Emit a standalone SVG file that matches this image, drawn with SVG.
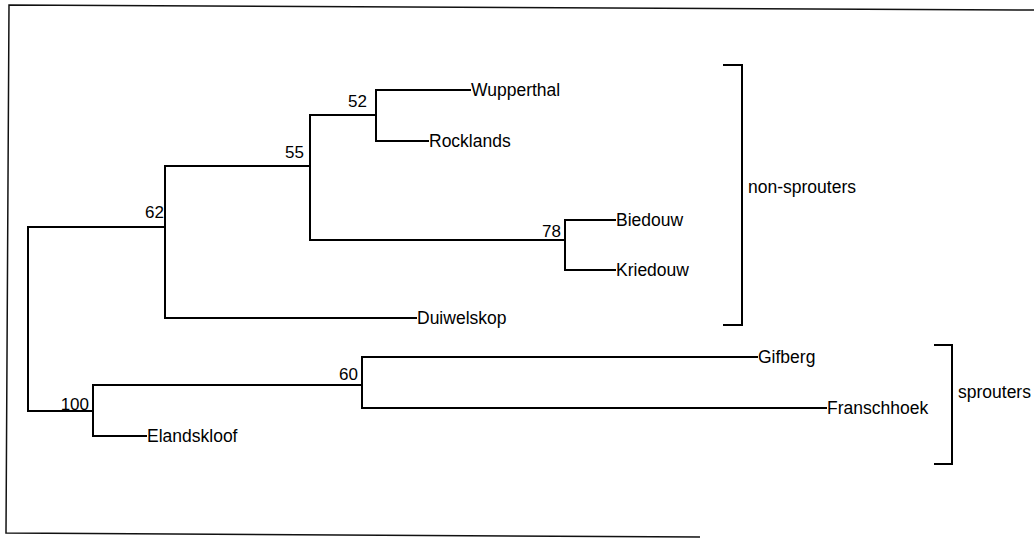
<svg xmlns="http://www.w3.org/2000/svg" width="1034" height="538" viewBox="0 0 1034 538">
<style>
.br{fill:none;stroke:#000;stroke-width:2;stroke-linecap:square}
.fr{fill:none;stroke:#111;stroke-width:1.5}
.t{font-family:"Liberation Sans",Arial,sans-serif;font-size:17.5px;fill:#000}
.n{font-family:"Liberation Sans",Arial,sans-serif;font-size:17px;fill:#000;text-anchor:end}
</style>
<rect width="1034" height="538" fill="#fff"/>
<path class="fr" d="M1034,10 L9,5 L6,533 L700,537"/>
<g id="connectors">
<path class="br" d="M28,227 V411"/>
<path class="br" d="M28,227 H165 M165,166 V318"/>
<path class="br" d="M165,166 H310 M310,115 V240"/>
<path class="br" d="M310,115 H376 M376,90 V141"/>
<path class="br" d="M376,90 H470 M376,141 H428"/>
<path class="br" d="M310,240 H565 M565,220 V270"/>
<path class="br" d="M565,220 H615 M565,270 H615"/>
<path class="br" d="M165,318 H416"/>
<path class="br" d="M28,411 H93 M93,385 V436"/>
<path class="br" d="M93,385 H362 M362,357 V408"/>
<path class="br" d="M362,357 H757 M362,408 H826"/>
<path class="br" d="M93,436 H146"/>
<path class="br" d="M724,65 H742 V325 H724"/>
<path class="br" d="M935,345 H952 V464 H935"/>
</g>
<g id="node-wupperthal"><text class="t" x="471" y="96">Wupperthal</text></g>
<g id="node-rocklands"><text class="t" x="429" y="147">Rocklands</text></g>
<g id="node-biedouw"><text class="t" x="616" y="226">Biedouw</text></g>
<g id="node-kriedouw"><text class="t" x="616" y="276">Kriedouw</text></g>
<g id="node-duiwelskop"><text class="t" x="417" y="324">Duiwelskop</text></g>
<g id="node-gifberg"><text class="t" x="758" y="363">Gifberg</text></g>
<g id="node-franschhoek"><text class="t" x="827" y="414">Franschhoek</text></g>
<g id="node-elandskloof"><text class="t" x="147" y="442">Elandskloof</text></g>
<g id="node-52"><text class="n" x="367" y="107">52</text></g>
<g id="node-55"><text class="n" x="304" y="158">55</text></g>
<g id="node-62"><text class="n" x="164" y="218">62</text></g>
<g id="node-78"><text class="n" x="561" y="237">78</text></g>
<g id="node-100"><text class="n" x="89" y="410">100</text></g>
<g id="node-60"><text class="n" x="358" y="380">60</text></g>
<g id="group-non-sprouters"><text class="t" x="748" y="193">non-sprouters</text></g>
<g id="group-sprouters"><text class="t" x="958" y="398">sprouters</text></g>
</svg>
